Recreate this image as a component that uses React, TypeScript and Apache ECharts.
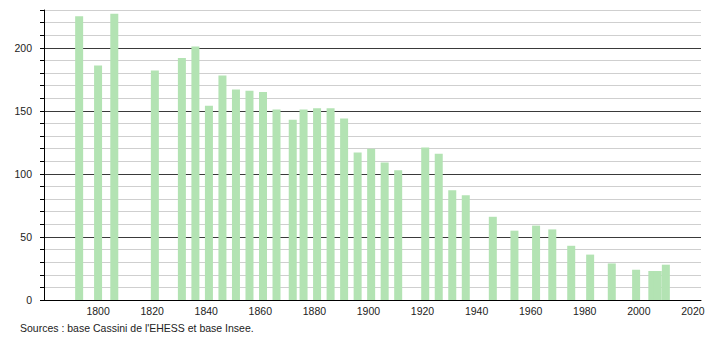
import React, { useEffect, useRef } from "react";
import * as echarts from "echarts";

const years = [
  1793, 1800, 1806, 1821, 1831, 1836, 1841, 1846, 1851, 1856, 1861, 1866, 1872, 1876,
  1881, 1886, 1891, 1896, 1901, 1906, 1911, 1921, 1926, 1931, 1936, 1946, 1954, 1962,
  1968, 1975, 1982, 1990, 1999, 2005, 2007, 2010,
];
const population = [
  225, 186, 227, 182, 192, 201, 154, 178, 167, 166, 165, 151, 143, 151,
  152, 152, 144, 117, 120, 109, 103, 121, 116, 87, 83, 66, 55, 59,
  56, 43, 36, 29, 24, 23, 23, 28,
];
const sourceText = "Sources : base Cassini de l'EHESS et base Insee.";

export default function App() {
  const ref = useRef<HTMLDivElement>(null);
  useEffect(() => {
    if (!ref.current) return;
    const chart = echarts.init(ref.current, null, { renderer: "svg" });
    const font = "'Liberation Sans', Arial, sans-serif";
    chart.setOption({
      animation: false,
      grid: { left: 44, right: 9, top: 10, bottom: 40, containLabel: false },
      xAxis: {
        type: "value",
        min: 1780,
        max: 2023,
        interval: 20,
        axisLine: { show: true, onZero: false, lineStyle: { color: "#000", width: 1 } },
        axisTick: { show: false },
        splitLine: { show: false },
        axisLabel: {
          showMinLabel: false,
          color: "#222",
          fontSize: 10.5,
          fontFamily: font,
          margin: 5,
          formatter: (v: number) => (v === 1780 ? "" : String(v)),
        },
      },
      yAxis: [
        {
          type: "value",
          min: 0,
          max: 230,
          interval: 10,
          axisLine: { show: true, lineStyle: { color: "#000", width: 1 } },
          axisTick: { show: true, length: 4, lineStyle: { color: "#000" } },
          splitLine: { show: true, lineStyle: { color: "#cfcfcf", width: 1 } },
          axisLabel: {
            color: "#222",
            fontSize: 10.5,
            fontFamily: font,
            margin: 12,
            formatter: (v: number) => (v % 50 === 0 ? String(v) : ""),
          },
        },
        {
          type: "value",
          min: 0,
          max: 230,
          interval: 50,
          position: "left",
          axisLine: { show: false },
          axisTick: { show: false },
          axisLabel: { show: false },
          splitLine: { show: true, showMaxLine: false, lineStyle: { color: "#3a3a3a", width: 1 } },
        },
      ],
      series: [
        {
          type: "bar",
          yAxisIndex: 0,
          barWidth: 8,
          itemStyle: { color: "#b3e3b3" },
          data: years.map((y, i) => [y, population[i]]),
        },
      ],
      graphic: [
        {
          type: "text",
          left: 20,
          top: 322,
          style: { text: sourceText, fill: "#222", font: `10.5px ${font}` },
        },
      ],
    });
    return () => chart.dispose();
  }, []);
  return (
    <div
      ref={ref}
      style={{ position: "fixed", left: 0, top: 0, width: 710, height: 340, background: "#fff" }}
    />
  );
}
